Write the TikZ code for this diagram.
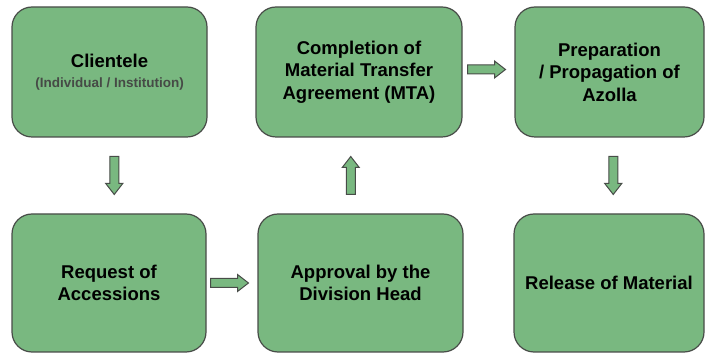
\documentclass[tikz,border=0pt]{standalone}
\usepackage{fontspec}
\setmainfont{Liberation Sans}
\usetikzlibrary{calc}
\definecolor{boxgreen}{RGB}{121,184,128}
\definecolor{boxline}{RGB}{72,76,72}
\definecolor{subgray}{RGB}{70,74,70}
\newcommand\blockarr[2]{%
  \draw[arrowbody, shift={(#1)}, rotate=#2]
    (-19,-4.5) -- (8,-4.5) -- (8,-8.5) -- (19,0) -- (8,8.5) -- (8,4.5) -- (-19,4.5) -- cycle;}
\begin{document}
\begin{tikzpicture}[x=1pt,y=1pt,
  stepbox/.style={draw=boxline, line width=1.2pt, fill=boxgreen, rounded corners=20pt,
    align=center, inner sep=2pt, font=\fontsize{18.5}{22.5}\selectfont\bfseries},
  arrowbody/.style={draw=boxline, line width=1pt, fill=boxgreen, line join=miter}]
\useasboundingbox (0,0) rectangle (705,-355);
\node[stepbox, minimum width=195pt, minimum height=130pt] (a) at (109.5,-72)
  {Clientele\\[-3pt]{\fontsize{13.5}{16}\selectfont\color{subgray}(Individual / Institution)}};
\node[stepbox, minimum width=206pt, minimum height=130pt] (b) at (359,-72)
  {Completion of\\Material Transfer\\Agreement (MTA)};
\node[stepbox, minimum width=189pt, minimum height=130pt] (c) at (609.5,-72)
  {Preparation\\/ Propagation of\\Azolla};
\node[stepbox, minimum width=194pt, minimum height=138pt] (d) at (109,-283)
  {Request of\\Accessions};
\node[stepbox, minimum width=205pt, minimum height=138pt] (e) at (360.5,-283)
  {Approval by the\\Division Head};
\node[stepbox, minimum width=190pt, minimum height=138pt] (f) at (609,-283)
  {Release of Material};
\path (a.south) -- (d.north) coordinate[midway] (m1);
\path (d.east) -- (e.west) coordinate[midway] (m2);
\path (e.north) -- (b.south) coordinate[midway] (m3);
\path (b.east) -- (c.west) coordinate[midway] (m4);
\path (c.south) -- (f.north) coordinate[midway] (m5);
\blockarr{$(m1)+(5,0)$}{-90}
\blockarr{$(m2)+(-2.5,0)$}{0}
\blockarr{$(m3)+(-9,0)$}{90}
\blockarr{$(m4)+(-2,2.5)$}{0}
\blockarr{$(m5)+(4,0)$}{-90}
\end{tikzpicture}
\end{document}
